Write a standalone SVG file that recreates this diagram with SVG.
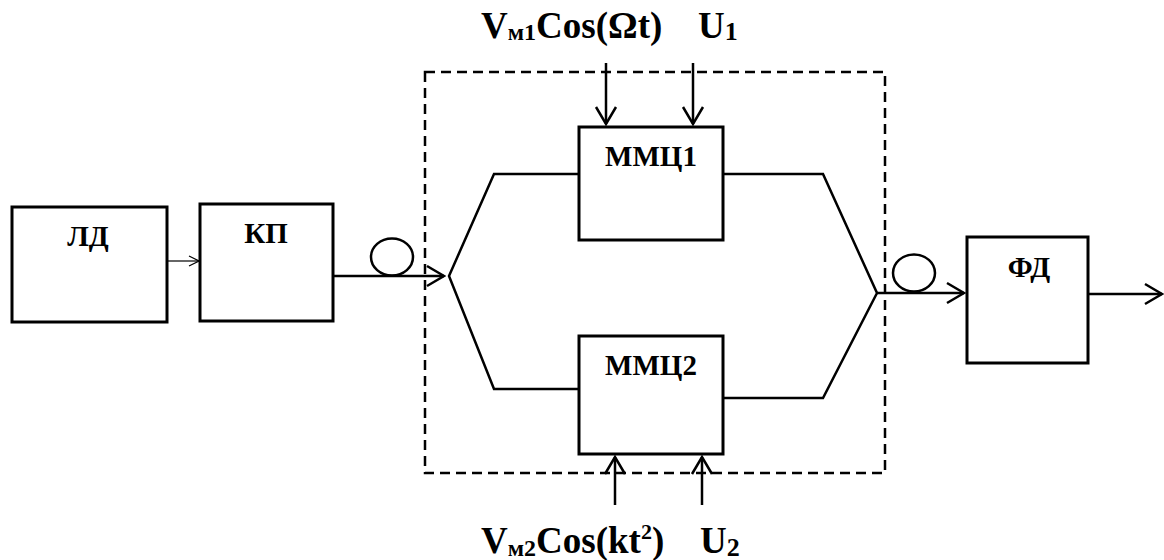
<svg xmlns="http://www.w3.org/2000/svg" width="1164" height="560" viewBox="0 0 1164 560">
<style>
.box{fill:#fff;stroke:#000;stroke-width:3}
.lbl{font-weight:bold;font-size:29px;text-anchor:middle;fill:#000}
.sig{font-weight:bold;font-size:37px;fill:#000}
.ln{fill:none;stroke:#000;stroke-width:2.5}
.thin{fill:none;stroke:#000;stroke-width:1.2}
.dash{fill:none;stroke:#000;stroke-width:2.5;stroke-dasharray:10 6}
</style>
<defs>
<marker id="ah" viewBox="0 0 20 24" refX="18" refY="12" markerWidth="20" markerHeight="24" markerUnits="userSpaceOnUse" orient="auto">
<path d="M1,2 L18,12 L1,22" fill="none" stroke="#000" stroke-width="2.5"/>
</marker>
<marker id="ahs" viewBox="0 0 12 12" refX="11" refY="6" markerWidth="12" markerHeight="12" markerUnits="userSpaceOnUse" orient="auto">
<path d="M1,1 L11,6 L1,11" fill="none" stroke="#000" stroke-width="1.2"/>
</marker>
</defs>
<rect class="dash" x="425" y="72" width="460" height="401"/>
<g id="connectors">
<line class="thin" x1="167" y1="261" x2="199" y2="261" marker-end="url(#ahs)"/>
<line class="ln" x1="333" y1="276" x2="444" y2="276" marker-end="url(#ah)"/>
<ellipse class="ln" cx="392" cy="257" rx="21" ry="18.5"/>
<polyline class="ln" points="579,174 494,174 449,276 494,389 579,389"/>
<polyline class="ln" points="723,174 823,174 877,293 823,398 723,398"/>
<line class="ln" x1="877" y1="293" x2="964" y2="293" marker-end="url(#ah)"/>
<ellipse class="ln" cx="914" cy="273" rx="21" ry="18.5"/>
<line class="ln" x1="1088" y1="294" x2="1162" y2="294" marker-end="url(#ah)"/>
<line class="ln" x1="606" y1="63" x2="606" y2="124" marker-end="url(#ah)"/>
<line class="ln" x1="693" y1="63" x2="693" y2="124" marker-end="url(#ah)"/>
<line class="ln" x1="615" y1="505" x2="615" y2="457" marker-end="url(#ah)"/>
<line class="ln" x1="702" y1="505" x2="702" y2="457" marker-end="url(#ah)"/>
</g>
<g font-family="Liberation Serif, Times New Roman, DejaVu Serif, serif">
<g id="ld"><rect class="box" x="12" y="207" width="155" height="115"/><text class="lbl" x="88" y="246">ЛД</text></g>
<g id="kp"><rect class="box" x="200" y="204" width="133" height="117"/><text class="lbl" x="266" y="243">КП</text></g>
<g id="mmc1"><rect class="box" x="579" y="127" width="144" height="113"/><text class="lbl" x="651" y="166">ММЦ1</text></g>
<g id="mmc2"><rect class="box" x="579" y="336" width="144" height="118"/><text class="lbl" x="651" y="375">ММЦ2</text></g>
<g id="fd"><rect class="box" x="967" y="237" width="121" height="126"/><text class="lbl" x="1029" y="277">ФД</text></g>
<g id="sig-top"><text class="sig" x="481" y="38">V<tspan font-size="24" dy="2">м1</tspan><tspan dy="-2">Cos(Ωt)</tspan><tspan x="698">U</tspan><tspan font-size="26" dy="2">1</tspan></text></g>
<g id="sig-bot"><text class="sig" x="481" y="553">V<tspan font-size="24" dy="3">м2</tspan><tspan dy="-3">Cos(kt</tspan><tspan font-size="22" dy="-14">2</tspan><tspan dy="14">)</tspan><tspan x="700">U</tspan><tspan font-size="26" dy="3">2</tspan></text></g>
</g>
</svg>
